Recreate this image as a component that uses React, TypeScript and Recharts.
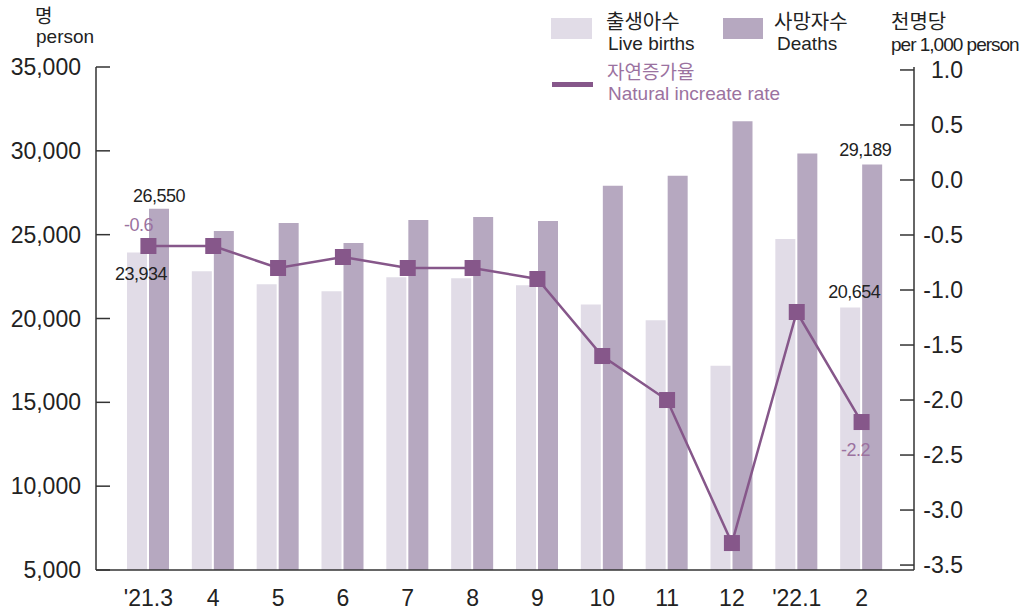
import React from 'react';
import { ComposedChart, Bar, Line, XAxis, YAxis } from 'recharts';

const categories = ["'21.3", '4', '5', '6', '7', '8', '9', '10', '11', '12', "'22.1", '2'];
const births = [23934, 22820, 22040, 21620, 22460, 22400, 21980, 20840, 19900, 17180, 24740, 20654];
const deaths = [26550, 25220, 25700, 24500, 25880, 26060, 25820, 27920, 28520, 31760, 29840, 29189];
const rate = [-0.6, -0.6, -0.8, -0.7, -0.8, -0.8, -0.9, -1.6, -2.0, -3.3, -1.2, -2.2];
const leftTicks = [5000, 10000, 15000, 20000, 25000, 30000, 35000];
const rightTicks = [1.0, 0.5, 0.0, -0.5, -1.0, -1.5, -2.0, -2.5, -3.0, -3.5];

const data = categories.map((c, i) => ({ name: c, births: births[i], deaths: deaths[i], rate: rate[i] }));

const FONT = "'Liberation Sans', Arial, 'Noto Sans CJK KR', sans-serif";
const KR_FONT = "'Noto Sans CJK KR', sans-serif";
const BIRTH_COLOR = '#e1dce7';
const DEATH_COLOR = '#b6a8c0';
const LINE_COLOR = '#86578a';
const LABEL_PURPLE = '#9b72a0';
const AXIS_COLOR = '#333';

const LeftTick = (props: any) => {
  const { x, y, payload } = props;
  return (
    <g>
      <line x1={x} x2={x + 14} y1={y} y2={y} stroke={AXIS_COLOR} strokeWidth={1.5} />
      <text x={x - 15} y={y} dy={8} textAnchor="end" fontSize={23} fill="#222" fontFamily={FONT}>
        {payload.value.toLocaleString('en-US')}
      </text>
    </g>
  );
};

const RightTick = (props: any) => {
  const { x, y, payload } = props;
  return (
    <g>
      <line x1={x - 14} x2={x} y1={y} y2={y} stroke={AXIS_COLOR} strokeWidth={1.5} />
      <text x={x + 49} y={y} dy={8} textAnchor="end" fontSize={23} fill="#222" fontFamily={FONT}>
        {payload.value.toFixed(1)}
      </text>
    </g>
  );
};

const XTick = (props: any) => {
  const { x, y, payload } = props;
  return (
    <text x={x} y={y + 36} textAnchor="middle" fontSize={23} fill="#222" fontFamily={FONT}>
      {payload.value}
    </text>
  );
};

const valueText = (x: number, y: number, s: string, color = '#222') => (
  <text x={x} y={y} textAnchor="middle" fontSize={18} letterSpacing={-0.5} fill={color} fontFamily={FONT}>
    {s}
  </text>
);

const birthLabel = (p: any) => {
  const cx = p.x + p.width / 2;
  if (p.index === 0) return valueText(cx + 4, p.y + 27, births[0].toLocaleString('en-US'));
  if (p.index === births.length - 1) return valueText(cx + 4, p.y - 10, births[p.index].toLocaleString('en-US'));
  return null;
};

const deathLabel = (p: any) => {
  const cx = p.x + p.width / 2;
  if (p.index === 0) return valueText(cx, p.y - 7, deaths[0].toLocaleString('en-US'));
  if (p.index === deaths.length - 1) return valueText(cx - 7, p.y - 8, deaths[p.index].toLocaleString('en-US'));
  return null;
};

const rateLabel = (p: any) => {
  if (p.index === 0) return valueText(p.x - 10, p.y - 15, rate[0].toFixed(1), LABEL_PURPLE);
  if (p.index === rate.length - 1) return valueText(p.x - 6, p.y + 34, rate[p.index].toFixed(1), LABEL_PURPLE);
  return null;
};

const SquareDot = (props: any) => {
  const { cx, cy } = props;
  return <rect x={cx - 8} y={cy - 8} width={16} height={16} fill={LINE_COLOR} />;
};

const App = () => {
  return (
    <div style={{ position: 'absolute', left: 0, top: 0, width: 1028, height: 614, background: '#fff' }}>
      <ComposedChart
        width={1028}
        height={614}
        data={data}
        margin={{ top: 67, right: 0, bottom: 0, left: 0 }}
        barSize={20}
        barGap={2}
      >
        <XAxis
          dataKey="name"
          height={44}
          padding={{ left: 20, right: 20 }}
          tickLine={false}
          tickSize={0}
          tickMargin={0}
          axisLine={{ stroke: AXIS_COLOR, strokeWidth: 1.5 }}
          tick={<XTick />}
          interval={0}
        />
        <YAxis
          yAxisId="left"
          width={96}
          domain={[5000, 35000]}
          ticks={leftTicks}
          tickLine={false}
          tickSize={0}
          tickMargin={0}
          axisLine={{ stroke: AXIS_COLOR, strokeWidth: 1.5 }}
          tick={<LeftTick />}
          interval={0}
        />
        <YAxis
          yAxisId="right"
          orientation="right"
          width={114}
          domain={[-3.545, 1.027]}
          ticks={rightTicks}
          allowDataOverflow
          tickLine={false}
          tickSize={0}
          tickMargin={0}
          axisLine={{ stroke: AXIS_COLOR, strokeWidth: 1.5 }}
          tick={<RightTick />}
          interval={0}
        />
        <Bar yAxisId="left" dataKey="births" fill={BIRTH_COLOR} isAnimationActive={false} label={birthLabel} />
        <Bar yAxisId="left" dataKey="deaths" fill={DEATH_COLOR} isAnimationActive={false} label={deathLabel} />
        <Line
          yAxisId="right"
          type="linear"
          dataKey="rate"
          stroke={LINE_COLOR}
          strokeWidth={2.5}
          dot={<SquareDot />}
          activeDot={false}
          isAnimationActive={false}
          label={rateLabel}
        />
      </ComposedChart>
      <svg
        width={1028}
        height={110}
        style={{ position: 'absolute', left: 0, top: 0, pointerEvents: 'none' }}
        fontFamily={FONT}
      >
        <text x={35} y={23} fontSize={19} fontFamily={KR_FONT} fill="#222">명</text>
        <text x={36} y={43} fontSize={19} fill="#222">person</text>

        <rect x={551} y={18} width={41} height={21} fill={BIRTH_COLOR} />
        <text x={606} y={29} fontSize={20} fontFamily={KR_FONT} fill="#222">출생아수</text>
        <text x={608} y={50} fontSize={19} fill="#222">Live births</text>

        <rect x={723} y={18} width={40} height={21} fill={DEATH_COLOR} />
        <text x={774} y={29} fontSize={20} fontFamily={KR_FONT} fill="#222">사망자수</text>
        <text x={777} y={50} fontSize={19} fill="#222">Deaths</text>

        <rect x={552} y={82} width={41} height={5} fill={LINE_COLOR} />
        <text x={607} y={79} fontSize={19} fontFamily={KR_FONT} fill={LABEL_PURPLE}>자연증가율</text>
        <text x={608} y={100} fontSize={19} fill={LABEL_PURPLE}>Natural increate rate</text>

        <text x={891} y={29} fontSize={20} fontFamily={KR_FONT} fill="#222">천명당</text>
        <text x={891} y={51} fontSize={19} letterSpacing={-1} fill="#222">per 1,000 person</text>
      </svg>
    </div>
  );
};

export default App;
